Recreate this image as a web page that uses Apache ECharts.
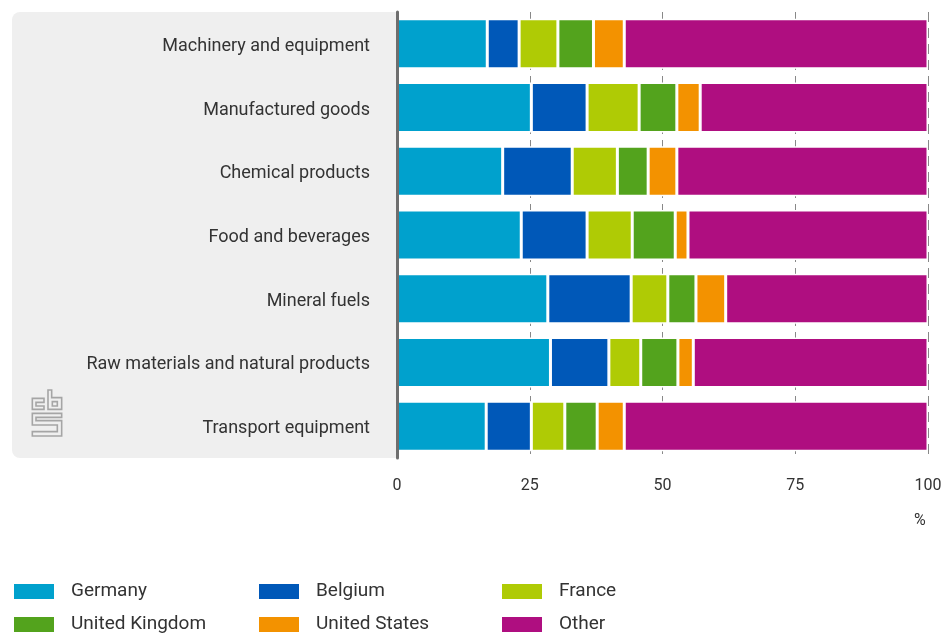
<!DOCTYPE html>
<html>
<head>
<meta charset="utf-8">
<style>
  html, body { margin: 0; padding: 0; background: #fff; }
  #chart { width: 947px; height: 633px; }
</style>
<script src="https://cdn.jsdelivr.net/npm/echarts@6/dist/echarts.min.js"></script>
</head>
<body>
<div id="chart"></div>
<script>
// Export destinations per product group (% of export value)
const categories = [
  'Machinery and equipment',
  'Manufactured goods',
  'Chemical products',
  'Food and beverages',
  'Mineral fuels',
  'Raw materials and natural products',
  'Transport equipment'
];
const germany = [17.0, 25.3, 19.9, 23.4, 28.4, 28.9, 16.8];
const belgium = [6.0, 10.5, 13.1, 12.4, 15.7, 11.0, 8.5];
const france  = [7.3, 9.8, 8.5, 8.5, 6.9, 6.0, 6.3];
const uk      = [6.7, 7.1, 5.8, 8.1, 5.3, 7.0, 6.1];
const us      = [5.8, 4.4, 5.4, 2.4, 5.6, 2.9, 5.1];
const other   = [57.2, 42.9, 47.3, 45.2, 38.1, 44.2, 57.2];
const xTicks  = [0, 25, 50, 75, 100];

const FONT = 'Roboto';
const seriesDefs = [
  { name: 'Germany',        data: germany, color: '#00a1cd' },
  { name: 'Belgium',        data: belgium, color: '#0058b8' },
  { name: 'France',         data: france,  color: '#afcb05' },
  { name: 'United Kingdom', data: uk,      color: '#53a31d' },
  { name: 'United States',  data: us,      color: '#f39200' },
  { name: 'Other',          data: other,   color: '#af0e80' }
];

const chart = echarts.init(document.getElementById('chart'), null, { renderer: 'canvas' });

// one legend entry per block, laid out as a 3-column grid
const legendCols = [12, 257, 500];
const legendRows = [582, 615];
function legendItem(name, idx) {
  return {
    left: legendCols[idx % 3], top: legendRows[Math.floor(idx / 3)],
    data: [name], icon: 'rect', itemWidth: 42, itemHeight: 17,
    selectedMode: false, padding: 0,
    textStyle: { fontFamily: FONT, fontSize: 19, color: '#333', padding: [0, 0, 0, 11] }
  };
}

// CBS logo drawn as outlined shapes
const lx = 20, ly = 380, ls = 1 / 3;
function pts(arr) { return arr.map(p => [lx + p[0] * ls, ly + p[1] * ls]); }
const logoStyle = { fill: 'none', stroke: '#a5a5a5', lineWidth: 1.6 };
const logo = [
  { type: 'polygon', shape: { points: pts([[72,55],[37,55],[37,88],[72,88],[72,78],[48,78],[48,67],[72,67]]) }, style: logoStyle },
  { type: 'polygon', shape: { points: pts([[84,30],[95,30],[95,53],[125,53],[125,88],[84,88]]) }, style: logoStyle },
  { type: 'polygon', shape: { points: pts([[97,65],[112,65],[112,78],[97,78]]) }, style: logoStyle },
  { type: 'polygon', shape: { points: pts([[37,100],[125,100],[125,112],[48,112],[48,122],[125,122],[125,168],[37,168],[37,155],[112,155],[112,135],[37,135]]) }, style: logoStyle }
];

chart.setOption({
  animation: false,
  textStyle: { fontFamily: FONT },
  grid: { left: 397, right: 19, top: 12, bottom: 175, containLabel: false },
  graphic: [
    { type: 'rect', z: -10, shape: { x: 12, y: 12, width: 385, height: 446, r: [8, 0, 0, 8] }, style: { fill: '#efefef' } },
    ...logo.map(g => Object.assign({ z: -5 }, g)),
    { type: 'text', left: 914, top: 513, style: { text: '%', font: '16px ' + FONT, fill: '#333' } }
  ],
  legend: ['Germany', 'Belgium', 'France', 'United Kingdom', 'United States', 'Other'].map(legendItem),
  xAxis: {
    type: 'value', min: xTicks[0], max: xTicks[xTicks.length - 1], interval: 25,
    axisLine: { show: false }, axisTick: { show: false },
    axisLabel: { fontFamily: FONT, fontSize: 16, color: '#333', margin: 20 },
    splitLine: { show: true, lineStyle: { color: '#888', width: 1, type: [10, 6] } }
  },
  yAxis: {
    type: 'category', data: categories, inverse: true, z: 5,
    axisLine: { show: true, lineStyle: { color: '#6e6e6e', width: 3 } },
    axisTick: { show: false },
    axisLabel: {
      margin: 27,
      formatter: '{c|{value}}',
      rich: { c: { fontFamily: FONT, fontSize: 18, color: '#333', padding: [5, 0, 0, 0] } }
    }
  },
  series: seriesDefs.map(s => ({
    name: s.name, type: 'bar', stack: 'total', data: s.data,
    barWidth: 50,
    itemStyle: { color: s.color, borderColor: '#fff', borderWidth: 1.5 }
  }))
});
</script>
</body>
</html>
